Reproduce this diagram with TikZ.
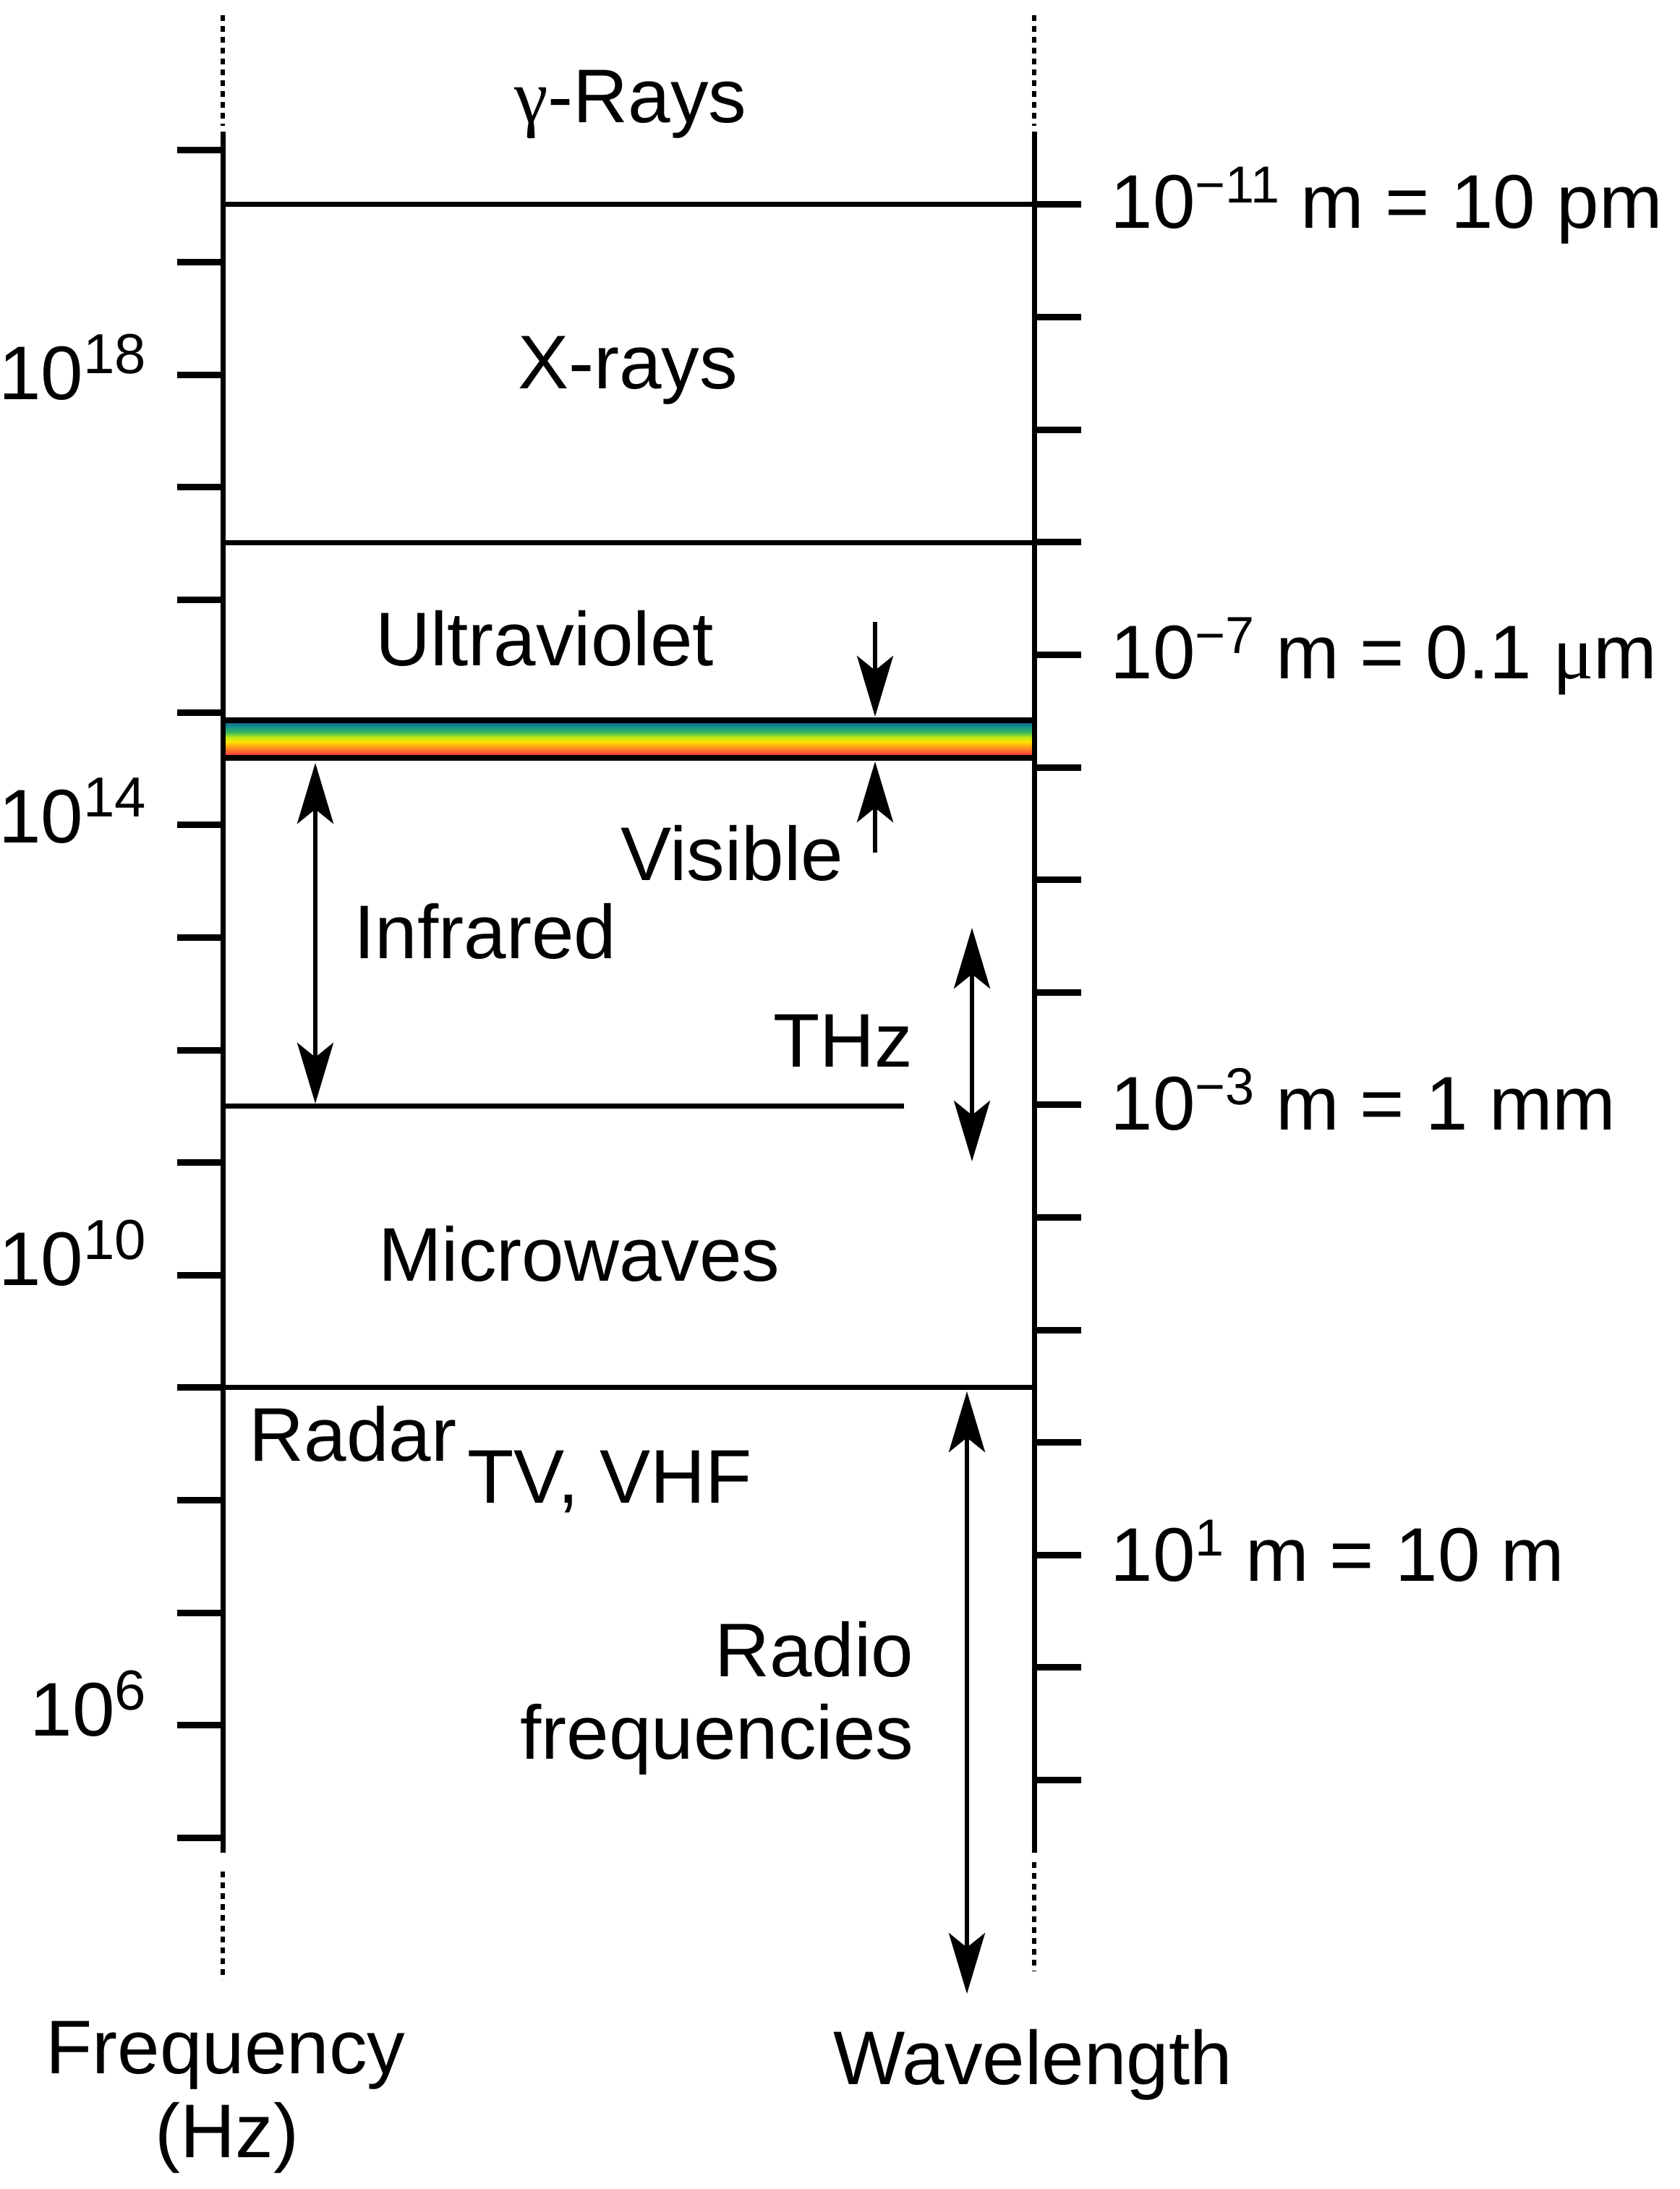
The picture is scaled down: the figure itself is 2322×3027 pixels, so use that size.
\documentclass[tikz,border=0pt]{standalone}
\usepackage{fontspec}
\setmainfont{Liberation Sans}
\newfontfamily\symfont{Liberation Serif}
\usetikzlibrary{arrows.meta}
\definecolor{rb0}{RGB}{190,30,80}
\definecolor{rb1}{RGB}{250,70,60}
\definecolor{rb2}{RGB}{255,140,30}
\definecolor{rb3}{RGB}{255,225,0}
\definecolor{rb4}{RGB}{200,235,20}
\definecolor{rb5}{RGB}{60,185,90}
\definecolor{rb6}{RGB}{20,150,140}
\definecolor{rb7}{RGB}{20,80,140}
\pgfdeclareverticalshading{rainbowv}{100bp}{color(0bp)=(rb0); color(25bp)=(rb0); color(30bp)=(rb1); color(38bp)=(rb2); color(46bp)=(rb3); color(52bp)=(rb4); color(59bp)=(rb5); color(66bp)=(rb6); color(75bp)=(rb7); color(100bp)=(rb7)}
\newcommand{\pw}[1]{\raisebox{8.75pt}{\fontsize{18}{20}\selectfont #1}}
\newcommand{\pwl}[1]{\raisebox{9pt}{\fontsize{19.5}{22}\selectfont #1}}
\begin{document}
\begin{tikzpicture}[x=0.25pt,y=-0.25pt,
  axisline/.style={line width=1.75pt},
  dotline/.style={line width=1.5pt,dash pattern=on 2pt off 1.75pt},
  ticksty/.style={line width=2.25pt},
  bound/.style={line width=1.75pt},
  dbl/.style={line width=1.5pt,{Stealth[length=21pt,width=12.5pt,inset=5pt]}-{Stealth[length=21pt,width=12.5pt,inset=5pt]}},
  sgl/.style={line width=1.5pt,-{Stealth[length=21pt,width=12.5pt,inset=5pt]}},
  lbl/.style={inner sep=0pt,font=\fontsize{26.3}{31}\selectfont}]
\useasboundingbox (0,0) rectangle (2322,3027);

% rainbow band (visible)
\shade[shading=rainbowv] (308,996) rectangle (1430,1048);
\draw[line width=2pt] (308,996) -- (1430,996);
\draw[line width=2pt] (308,1048) -- (1430,1048);

% axes
\draw[axisline] (308,182) -- (308,2562);
\draw[axisline] (1430,182) -- (1430,2562);
\draw[dotline] (308,21) -- (308,174);
\draw[dotline] (1430,21) -- (1430,174);
\draw[dotline] (308,2588) -- (308,2738);
\draw[dotline] (1430,2575) -- (1430,2726);

% frequency ticks
\foreach \k in {0,...,15}
  \draw[ticksty] (245,{207.2+155.6*\k}) -- (308,{207.2+155.6*\k});
% wavelength ticks
\foreach \j in {0,...,14}
  \draw[ticksty] (1430,{283+155.6*\j}) -- (1495,{283+155.6*\j});

% band boundaries
\draw[bound] (308,283) -- (1495,283);
\draw[bound] (308,750) -- (1495,750);
\draw[bound] (308,1529) -- (1250,1529);
\draw[bound] (245,1918) -- (1430,1918);

% arrows
\coordinate (visDa) at (1210,860);
\coordinate (visDb) at (1210,991);
\coordinate (visUa) at (1210,1179);
\coordinate (visUb) at (1210,1053);
\draw[sgl] (visDa) -- (visDb);
\draw[sgl] (visUa) -- (visUb);
\coordinate (irA) at (436,1055);
\coordinate (irB) at (436,1526);
\draw[dbl] (irA) -- (irB);
\coordinate (thzA) at (1344,1283);
\coordinate (thzB) at (1344,1606);
\draw[dbl] (thzA) -- (thzB);
\coordinate (rfA) at (1337,1924);
\coordinate (rfB) at (1337,2757);
\draw[dbl] (rfA) -- (rfB);

% region labels
\node[lbl,anchor=base] (gam) at (872,170) {{\symfont γ}-Rays};
\node[lbl,anchor=base] (xr) at (868,538) {X-rays};
\node[lbl,anchor=base] (uv) at (753,920) {Ultraviolet};
\node[lbl,anchor=base] (vis) at (1012,1217) {Visible};
\node[lbl,anchor=base] (ir) at (671,1325) {Infrared};
\node[lbl,anchor=base] (thz) at (1166,1475) {THz};
\node[lbl,anchor=base] (mw) at (801,1771) {Microwaves};
\node[lbl,anchor=base] (rad) at (488,2020) {Radar};
\node[lbl,anchor=base] (tv) at (843,2078) {TV, VHF};
\node[lbl,anchor=base east] (rf1) at (1264,2318) {Radio};
\node[lbl,anchor=base east] (rf2) at (1264,2432) {frequencies};

% frequency labels
\node[lbl,anchor=base east] (f18) at (203,553) {10\pwl{18}};
\node[lbl,anchor=base east] (f14) at (203,1165) {10\pwl{14}};
\node[lbl,anchor=base east] (f10) at (203,1777) {10\pwl{10}};
\node[lbl,anchor=base east] (f6) at (203,2400) {10\pwl{6}};

% wavelength labels
\node[lbl,anchor=base west] (w11) at (1535,316) {10\pw{−11} m = 10 pm};
\node[lbl,anchor=base west] (w7) at (1535,938) {10\pw{−7} m = 0.1 {\symfont μ}m};
\node[lbl,anchor=base west] (w3) at (1535,1562) {10\pw{−3} m = 1 mm};
\node[lbl,anchor=base west] (w1) at (1535,2186) {10\pw{1} m = 10 m};

% axis titles
\node[lbl,anchor=base] (fq) at (312,2867) {Frequency};
\node[lbl,anchor=base] (hz) at (314,2983) {(Hz)};
\node[lbl,anchor=base] (wl) at (1428,2882) {Wavelength};
\end{tikzpicture}
\end{document}
